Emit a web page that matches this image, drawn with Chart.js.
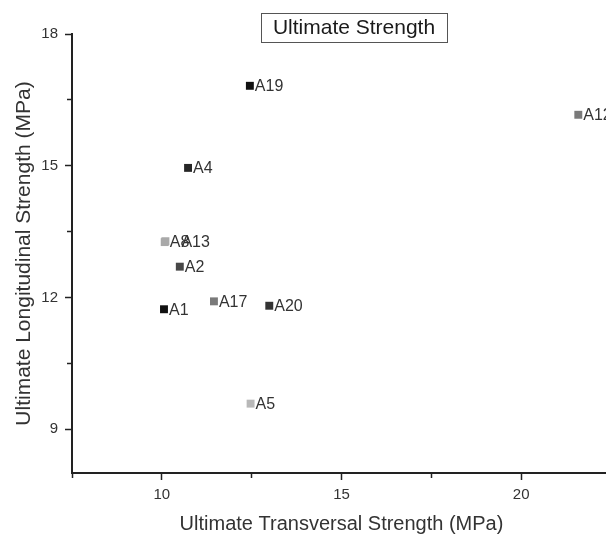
<!DOCTYPE html>
<html>
<head>
<meta charset="utf-8">
<title>Ultimate Strength</title>
<script src="https://cdn.jsdelivr.net/npm/chart.js@4.4.1/dist/chart.umd.min.js"></script>
<style>
  html, body { margin: 0; padding: 0; background: #fff; overflow: hidden; }
  #wrap { width: 708px; height: 536px; }
</style>
</head>
<body>
<div id="wrap"><canvas id="strengthChart" width="708" height="536"></canvas></div>
<script>
// values
var sampleNames  = ['A1', 'A2', 'A4', 'A5', 'A8', 'A12', 'A13', 'A17', 'A19', 'A20'];
var transversal  = [10.06, 10.50, 10.73, 12.47, 10.08, 21.59, 10.10, 11.45, 12.45, 12.99];
var longitudinal = [11.73, 12.70, 14.95, 9.58, 13.26, 16.16, 13.28, 11.91, 16.82, 11.81];
var pointColors  = ['#111', '#474747', '#262626', '#b8b8b8', '#a9a9a9', '#7a7a7a', '#a9a9a9', '#7a7a7a', '#111', '#333'];

var xTicks = [7.5, 10, 12.5, 15, 17.5, 20, 22.5];
var xMajor = [10, 15, 20];
var yTicks = [9, 10.5, 12, 13.5, 15, 16.5, 18];
var yMajor = [9, 12, 15, 18];

// labels that were dragged sideways in the original (px)
var labelNudge = { A13: 11 };

Chart.defaults.font.family = '"Liberation Sans", Arial, sans-serif';
Chart.defaults.color = '#333';

// names next to each marker
var pointLabels = {
    id: 'pointLabels',
    afterDatasetsDraw: function(chart) {
        var ctx = chart.ctx;
        var meta = chart.getDatasetMeta(0);
        ctx.save();
        ctx.font = '16px "Liberation Sans", Arial, sans-serif';
        ctx.fillStyle = '#333';
        ctx.textBaseline = 'middle';
        meta.data.forEach(function(pt, i) {
            var dx = labelNudge[sampleNames[i]] || 0;
            ctx.fillText(sampleNames[i], pt.x + 5 + dx, pt.y + 1);
        });
        ctx.restore();
    }
};

// boxed title above the plot
var boxTitle = {
    id: 'boxTitle',
    afterDraw: function(chart) {
        var ctx = chart.ctx;
        var text = 'Ultimate Strength';
        ctx.save();
        ctx.font = '21px "Liberation Sans", Arial, sans-serif';
        var w = ctx.measureText(text).width;
        var cx = chart.width / 2;
        var cy = chart.chartArea.top - 6.5;
        ctx.fillStyle = '#fff';
        ctx.fillRect(cx - w / 2 - 12, cy - 14.5, w + 24, 29);
        ctx.strokeStyle = '#555';
        ctx.lineWidth = 1;
        ctx.strokeRect(Math.round(cx - w / 2 - 12) + 0.5, Math.round(cy - 14.5) + 0.5, Math.round(w + 24), 29);
        ctx.fillStyle = '#1a1a1a';
        ctx.textAlign = 'center';
        ctx.textBaseline = 'middle';
        ctx.fillText(text, cx, cy + 1);
        ctx.restore();
    }
};

function isIn(list, v) {
    return list.indexOf(v) >= 0;
}

var ctx = document.getElementById('strengthChart').getContext('2d');
var chart = new Chart(ctx, {
    type: 'scatter',
    data: {
        datasets: [{
            data: transversal.map(function(x, i) { return { x: x, y: longitudinal[i] }; }),
            pointStyle: 'rect',
            pointRadius: 5.6,
            pointBackgroundColor: pointColors,
            pointBorderColor: pointColors,
            pointBorderWidth: 0
        }]
    },
    options: {
        responsive: false,
        animation: false,
        layout: { padding: { top: 34, right: 97, bottom: 0, left: 0 } },
        plugins: {
            legend: { display: false },
            tooltip: { enabled: false }
        },
        scales: {
            x: {
                type: 'linear',
                min: 7.5,
                max: 22.5,
                afterBuildTicks: function(scale) {
                    scale.ticks = xTicks.map(function(v) { return { value: v }; });
                },
                afterFit: function(scale) { scale.height = 63; },
                ticks: {
                    padding: 6,
                    font: { size: 15 },
                    color: '#333',
                    callback: function(value) { return isIn(xMajor, value) ? value : ''; }
                },
                grid: {
                    drawOnChartArea: false,
                    tickLength: 7,
                    tickColor: '#222',
                    tickWidth: 1.5,
                    tickBorderDash: function(c) { return isIn(xMajor, c.tick.value) ? [] : [4, 20]; }
                },
                border: { display: true, color: '#222', width: 2 },
                title: {
                    display: true,
                    text: 'Ultimate Transversal Strength (MPa)',
                    font: { size: 20 },
                    color: '#333',
                    padding: { top: 0, bottom: 0 }
                }
            },
            y: {
                type: 'linear',
                min: 8,
                max: 18,
                afterBuildTicks: function(scale) {
                    scale.ticks = yTicks.map(function(v) { return { value: v }; });
                },
                afterFit: function(scale) { scale.width = 72; },
                ticks: {
                    padding: 7,
                    font: { size: 15 },
                    color: '#333',
                    callback: function(value) { return isIn(yMajor, value) ? value : ''; }
                },
                grid: {
                    drawOnChartArea: false,
                    tickLength: 7,
                    tickColor: '#222',
                    tickWidth: 1.5,
                    tickBorderDash: function(c) { return isIn(yMajor, c.tick.value) ? [] : [4, 20]; },
                    tickBorderDashOffset: function(c) { return isIn(yMajor, c.tick.value) ? 0 : 22; }
                },
                border: { display: true, color: '#222', width: 2 },
                title: {
                    display: true,
                    text: 'Ultimate Longitudinal Strength (MPa)',
                    font: { size: 21 },
                    color: '#333',
                    padding: { top: 12, bottom: 0 }
                }
            }
        }
    },
    plugins: [pointLabels, boxTitle]
});
</script>
</body>
</html>
